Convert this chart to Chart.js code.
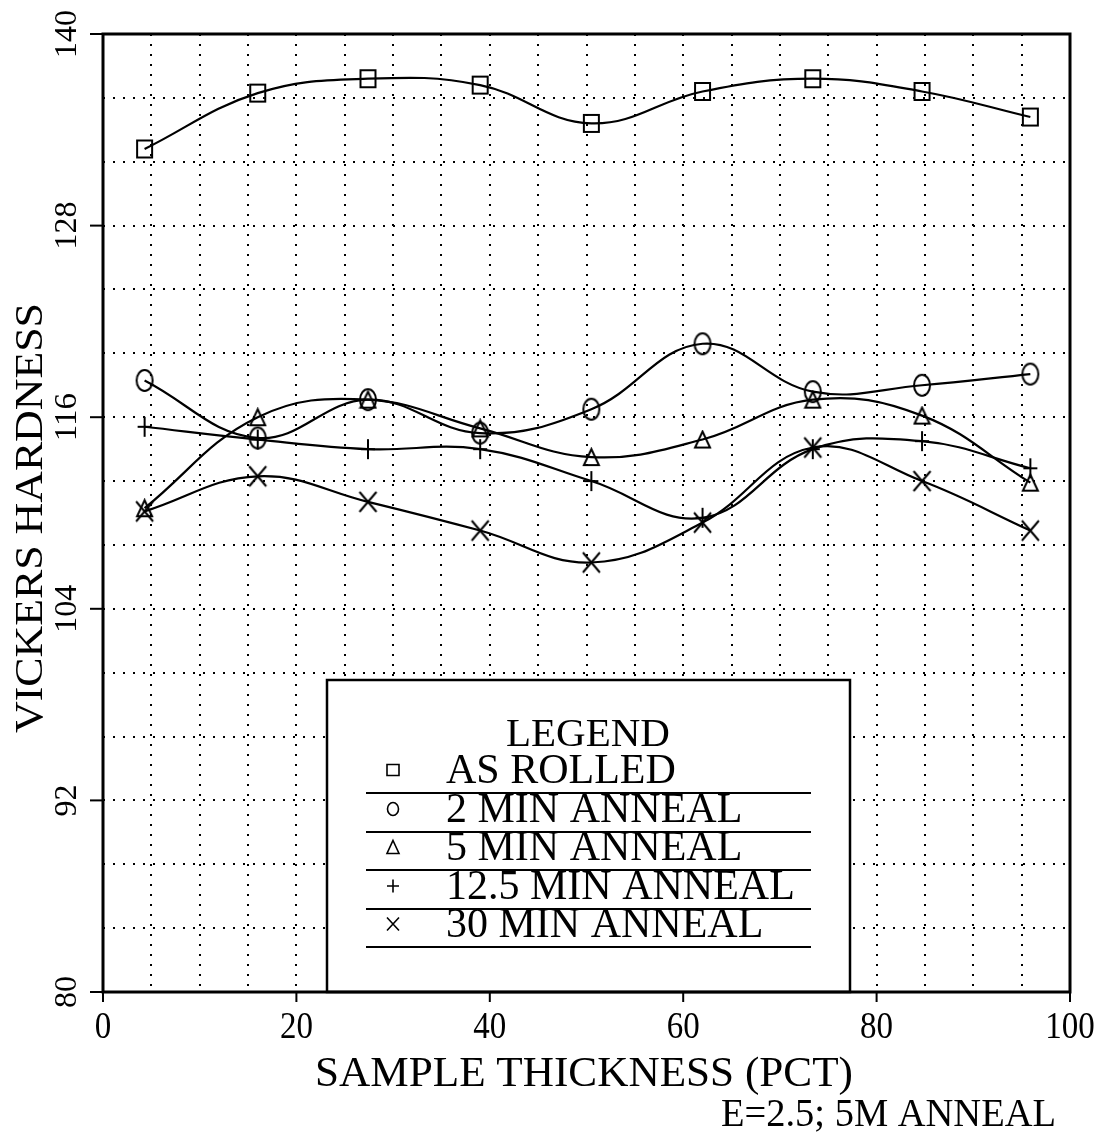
<!DOCTYPE html>
<html>
<head>
<meta charset="utf-8">
<script src="https://cdn.jsdelivr.net/npm/chart.js@4.4.1/dist/chart.umd.min.js"></script>
<style>
  html, body { margin: 0; padding: 0; background: #fff; }
  #wrap { width: 1099px; height: 1137px; }
</style>
</head>
<body>
<div id="wrap"><canvas id="chart"></canvas></div>
<script>
// sample positions (pct of thickness)
var thickness = [4.3, 16, 27.4, 39, 50.5, 62, 73.4, 84.7, 95.9];

// vickers hardness per anneal time
var asRolled   = [132.8, 136.3, 137.2, 136.8, 134.4, 136.4, 137.2, 136.4, 134.8];
var anneal2    = [118.3, 114.7, 117.1, 115.0, 116.5, 120.6, 117.6, 118.0, 118.7];
var anneal5    = [110.3, 116.0, 117.1, 115.3, 113.5, 114.6, 117.1, 116.1, 111.9];
var anneal12   = [115.4, 114.6, 114.0, 114.0, 112.0, 109.7, 114.0, 114.5, 112.8];
var anneal30   = [110.1, 112.3, 110.7, 108.9, 106.9, 109.4, 114.1, 112.0, 108.9];

var seriesLabels = ['AS ROLLED', '2 MIN ANNEAL', '5 MIN ANNEAL', '12.5 MIN ANNEAL', '30 MIN ANNEAL'];
var seriesShapes = ['square', 'circle', 'triangle', 'plus', 'cross'];
var seriesValues = [asRolled, anneal2, anneal5, anneal12, anneal30];

var xTickLabels = [0, 20, 40, 60, 80, 100];
var yTickLabels = [80, 92, 104, 116, 128, 140];

var SERIF = '"Liberation Serif", "DejaVu Serif", serif';

function toPoints(vals) {
    return vals.map(function(v, i) { return { x: thickness[i], y: v }; });
}

// outline of a marker, w/h is the full box size
function traceShape(ctx, shape, x, y, w, h) {
    var hw = w / 2, hh = h / 2;
    ctx.beginPath();
    if (shape == 'square') {
        ctx.rect(x - hw, y - hh, w, h);
    } else if (shape == 'circle') {
        ctx.ellipse(x, y, hw, hh, 0, 0, Math.PI * 2);
    } else if (shape == 'triangle') {
        ctx.moveTo(x, y - hh);
        ctx.lineTo(x + hw, y + hh);
        ctx.lineTo(x - hw, y + hh);
        ctx.closePath();
    } else if (shape == 'plus') {
        ctx.moveTo(x - hw, y); ctx.lineTo(x + hw, y);
        ctx.moveTo(x, y - hh); ctx.lineTo(x, y + hh);
    } else {
        ctx.moveTo(x - hw, y - hh); ctx.lineTo(x + hw, y + hh);
        ctx.moveTo(x + hw, y - hh); ctx.lineTo(x - hw, y + hh);
    }
}

var markerSize = {
    square: [15, 17],
    circle: [16, 21],
    triangle: [15, 16],
    plus: [14, 20],
    cross: [17, 20]
};

function makeMarker(shape) {
    var sz = markerSize[shape];
    var c = document.createElement('canvas');
    c.width = sz[0] + 4;
    c.height = sz[1] + 4;
    var g = c.getContext('2d');
    g.strokeStyle = '#000';
    g.lineWidth = 2;
    traceShape(g, shape, c.width / 2, c.height / 2, sz[0], sz[1]);
    g.stroke();
    return c;
}

var datasets = seriesValues.map(function(vals, i) {
    return {
        label: seriesLabels[i],
        shape: seriesShapes[i],
        data: toPoints(vals),
        borderColor: '#000',
        borderWidth: 2.2,
        backgroundColor: 'rgba(0,0,0,0)',
        pointStyle: makeMarker(seriesShapes[i]),
        pointRadius: 10,
        tension: 0.4,
        fill: false
    };
});

// draw text squeezed or stretched to a given width
function fitText(ctx, text, x, y, size, width) {
    ctx.font = size + 'px ' + SERIF;
    var w = ctx.measureText(text).width;
    ctx.save();
    ctx.translate(x, y);
    ctx.scale(width / w, 1);
    ctx.fillText(text, 0, 0);
    ctx.restore();
}

// axis labels, frame and the boxed legend
var decorPlugin = {
    id: 'decor',
    afterDraw: function(chart) {
        var ctx = chart.ctx;
        var area = chart.chartArea;
        var xs = chart.scales.x;
        var ys = chart.scales.y;

        ctx.save();
        ctx.fillStyle = '#000';
        ctx.strokeStyle = '#000';

        // tick marks
        ctx.lineWidth = 2;
        yTickLabels.forEach(function(v) {
            var py = ys.getPixelForValue(v);
            ctx.beginPath();
            ctx.moveTo(area.left - 13, py);
            ctx.lineTo(area.left, py);
            ctx.stroke();
        });
        xTickLabels.forEach(function(v) {
            var px = xs.getPixelForValue(v);
            ctx.beginPath();
            ctx.moveTo(px, area.bottom);
            ctx.lineTo(px, area.bottom + 10);
            ctx.stroke();
        });

        ctx.textAlign = 'center';
        ctx.textBaseline = 'alphabetic';

        // y tick labels, rotated to read upwards
        yTickLabels.forEach(function(v) {
            var py = ys.getPixelForValue(v);
            ctx.save();
            ctx.translate(76, py);
            ctx.rotate(-Math.PI / 2);
            var s = String(v);
            fitText(ctx, s, 0, 0, 32, s.length * 16);
            ctx.restore();
        });

        // x tick labels
        xTickLabels.forEach(function(v) {
            var s = String(v);
            fitText(ctx, s, xs.getPixelForValue(v), 1038, 37, s.length * 16.5);
        });

        // axis titles
        fitText(ctx, 'SAMPLE THICKNESS (PCT)', 584, 1086, 42, 538);
        ctx.save();
        ctx.translate(42, 518);
        ctx.rotate(-Math.PI / 2);
        fitText(ctx, 'VICKERS HARDNESS', 0, 0, 41, 430);
        ctx.restore();

        ctx.textAlign = 'right';
        ctx.font = '39px ' + SERIF;
        var sw = ctx.measureText('E=2.5; 5M ANNEAL').width;
        ctx.save();
        ctx.translate(1056, 1126);
        ctx.scale(335 / sw, 1);
        ctx.fillText('E=2.5; 5M ANNEAL', 0, 0);
        ctx.restore();

        // legend box
        var bx = 327, by = 680, bw = 523, bh = area.bottom - 680;
        ctx.fillStyle = '#fff';
        ctx.fillRect(bx, by, bw, bh);
        ctx.lineWidth = 2.5;
        ctx.strokeRect(bx, by, bw, bh);
        ctx.fillStyle = '#000';
        ctx.textAlign = 'center';
        ctx.textBaseline = 'middle';
        ctx.font = '41px ' + SERIF;
        ctx.fillText('LEGEND', 588, 735);
        ctx.textAlign = 'left';
        var rowY = [772, 811, 849, 888, 926];
        chart.data.datasets.forEach(function(ds, i) {
            ctx.lineWidth = 1.6;
            traceShape(ctx, ds.shape, 393, rowY[i] - 2, ds.shape == 'circle' ? 11 : 12, ds.shape == 'square' ? 11 : 13);
            ctx.stroke();
            ctx.font = '42px ' + SERIF;
            ctx.fillText(ds.label, 446, rowY[i]);
            ctx.lineWidth = 2;
            ctx.beginPath();
            ctx.moveTo(366, rowY[i] + 21);
            ctx.lineTo(811, rowY[i] + 21);
            ctx.stroke();
        });

        // heavy frame
        ctx.lineWidth = 3;
        ctx.strokeRect(area.left, area.top, area.right - area.left, area.bottom - area.top);
        ctx.restore();
    }
};

new Chart(document.getElementById('chart'), {
    type: 'line',
    data: { datasets: datasets },
    options: {
        responsive: true,
        maintainAspectRatio: false,
        animation: false,
        layout: { padding: { left: 103, right: 29, top: 34, bottom: 145 } },
        plugins: {
            legend: { display: false },
            tooltip: { enabled: false }
        },
        scales: {
            x: {
                type: 'linear',
                min: 0,
                max: 100,
                ticks: { stepSize: 5, display: false },
                border: { display: false, dash: [2, 8] },
                grid: {
                    drawTicks: false,
                    color: function(c) {
                        var v = c.tick.value;
                        return (v == 0 || v == 100) ? 'rgba(0,0,0,0)' : '#000';
                    },
                    lineWidth: 2
                }
            },
            y: {
                min: 80,
                max: 140,
                ticks: { stepSize: 4, display: false },
                border: { display: false, dash: [2, 8] },
                grid: {
                    drawTicks: false,
                    color: function(c) {
                        var v = c.tick.value;
                        return (v == 80 || v == 140) ? 'rgba(0,0,0,0)' : '#000';
                    },
                    lineWidth: 2
                }
            }
        }
    },
    plugins: [decorPlugin]
});
</script>
</body>
</html>
